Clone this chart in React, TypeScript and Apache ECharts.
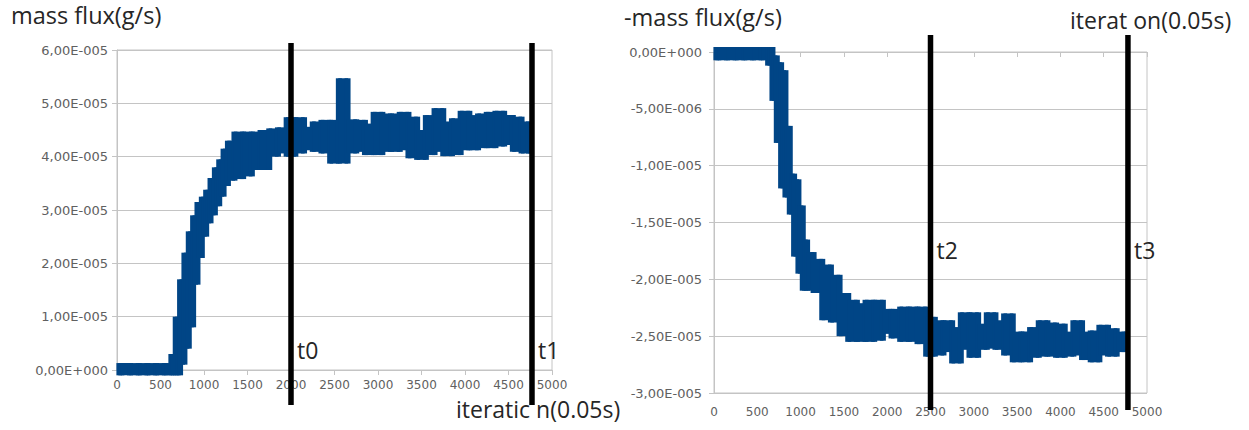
import React, { useEffect, useRef } from "react";
import * as echarts from "echarts";

// ---------- data ----------
// Left chart: mass flux, values in units of 1E-5 g/s (lower / upper edges of the thick noisy trace)
const leftIterations = [0, 100, 200, 300, 400, 500, 600, 650, 700, 750, 800, 850, 900, 950, 1000, 1050, 1100, 1150, 1200, 1250, 1300, 1400, 1500, 1600, 1700, 1800, 1900, 2000, 2100, 2200, 2300, 2400, 2500, 2600, 2700, 2800, 2900, 3000, 3100, 3200, 3300, 3400, 3500, 3600, 3700, 3800, 3900, 4000, 4100, 4200, 4300, 4400, 4500, 4600, 4700, 4770];
const leftUpperE5 = [0.13, 0.13, 0.13, 0.13, 0.13, 0.13, 0.13, 0.3, 1.0, 1.7, 2.2, 2.6, 2.9, 3.15, 3.25, 3.38, 3.6, 3.8, 3.95, 4.15, 4.3, 4.47, 4.47, 4.47, 4.5, 4.53, 4.55, 4.74, 4.74, 4.56, 4.66, 4.69, 4.69, 5.47, 4.7, 4.69, 4.62, 4.84, 4.81, 4.81, 4.84, 4.75, 4.5, 4.78, 4.91, 4.66, 4.72, 4.86, 4.78, 4.81, 4.84, 4.86, 4.78, 4.75, 4.66, 4.56];
const leftLowerE5 = [-0.1, -0.1, -0.1, -0.1, -0.1, -0.1, -0.1, -0.1, -0.1, 0.1, 0.4, 0.8, 1.6, 2.1, 2.5, 2.75, 2.9, 3.07, 3.25, 3.45, 3.55, 3.58, 3.63, 3.75, 3.75, 4.0, 4.06, 4.0, 4.06, 4.12, 4.09, 4.06, 3.87, 3.87, 4.06, 4.09, 4.03, 4.03, 4.09, 4.09, 4.12, 3.97, 3.94, 4.03, 4.09, 4.01, 4.03, 4.12, 4.12, 4.16, 4.16, 4.19, 4.22, 4.09, 4.06, 4.06];

// Right chart: -mass flux, values in units of 1E-6 g/s
const rightIterations = [0, 100, 200, 300, 400, 500, 600, 650, 700, 750, 800, 850, 900, 950, 1000, 1050, 1100, 1200, 1300, 1400, 1500, 1600, 1700, 1800, 1900, 2000, 2100, 2200, 2300, 2400, 2500, 2600, 2700, 2800, 2900, 3000, 3100, 3200, 3300, 3400, 3500, 3600, 3700, 3800, 3900, 4000, 4100, 4200, 4300, 4400, 4500, 4600, 4700, 4780];
const rightUpperE6 = [0.44, 0.44, 0.44, 0.44, 0.44, 0.44, 0.44, 0.44, -0.3, -0.9, -1.6, -6.5, -10.7, -11.2, -13.5, -16.5, -17.6, -18.2, -18.7, -19.6, -21.2, -21.8, -22.1, -21.8, -21.8, -22.6, -22.6, -22.4, -22.4, -22.4, -23.3, -23.6, -23.6, -24.2, -22.9, -22.9, -23.9, -22.9, -23.6, -23.0, -24.6, -24.6, -24.2, -23.6, -23.8, -23.9, -24.6, -23.6, -24.6, -24.5, -24.0, -24.3, -24.6, -24.6];
const rightLowerE6 = [-0.73, -0.73, -0.73, -0.73, -0.73, -0.73, -0.73, -1.2, -4.3, -8.0, -12.0, -12.8, -14.3, -18.0, -19.5, -21.0, -21.0, -21.2, -23.6, -23.8, -25.0, -25.5, -25.5, -25.5, -25.4, -24.8, -25.2, -25.5, -25.5, -25.7, -26.8, -26.7, -26.4, -27.4, -26.2, -26.9, -26.2, -26.1, -26.2, -26.7, -27.3, -27.3, -26.9, -26.8, -26.8, -26.9, -26.8, -26.7, -27.1, -27.3, -26.7, -26.8, -26.4, -26.2];

// Marker lines (iterations) and their labels
const leftMarkers = [2000, 4770];
const leftMarkerLabels = ["t0", "t1"];
const rightMarkers = [2500, 4780];
const rightMarkerLabels = ["t2", "t3"];

// Axis ticks
const xTicks = { min: 0, max: 5000, interval: 500 };
const leftY = { min: 0, max: 6, interval: 1 }; // x1E-5
const rightY = { min: -30, max: 0, interval: 5 }; // x1E-6

// Texts
const leftTitle = "mass flux(g/s)";
const leftXTitle = "iteratic n(0.05s)";
const rightTitle = "-mass flux(g/s)";
const rightXTitle = "iterat on(0.05s)";

// ---------- styles ----------
const BLUE = "#004586";
const GRID_LINE = "#c4c4c4";
const AXIS_LABEL = "#606060";
const LABEL_FONT = "DejaVu Sans";
const TEXT_FONT = "Open Sans";
const TEXT_COLOR = "#262626";

function sciFormatter(baseExp: number) {
  return (v: number) => {
    if (Math.abs(v) < 1e-9) return "0,00E+000";
    const e = Math.floor(Math.log10(Math.abs(v)) + 1e-9);
    const mant = v / Math.pow(10, e);
    const exp = e + baseExp;
    const expStr = (exp < 0 ? "-" : "+") + String(Math.abs(exp)).padStart(3, "0");
    return mant.toFixed(2).replace(".", ",") + "E" + expStr;
  };
}

// Noisy thick trace drawn as a stepped band between lower and upper edges,
// with a short vertical joint at each step so the trace stays continuous.
function bandSeries(idx: number, iters: number[], lower: number[], upper: number[]) {
  return {
    type: "custom",
    xAxisIndex: idx,
    yAxisIndex: idx,
    clip: false,
    silent: true,
    z: 3,
    data: iters.map((x, i) => [x, lower[i], upper[i]]),
    encode: { x: 0, y: [1, 2] },
    renderItem: (params: any, api: any) => {
      const i = params.dataIndex;
      const n = iters.length;
      const xi = iters[i];
      const xl = i > 0 ? (iters[i - 1] + xi) / 2 : xi;
      const xr = i < n - 1 ? (iters[i + 1] + xi) / 2 : xi;
      const p1 = api.coord([xl, upper[i]]);
      const p2 = api.coord([xr, lower[i]]);
      const children: any[] = [
        {
          type: "rect",
          shape: { x: p1[0] - 0.6, y: p1[1], width: p2[0] - p1[0] + 1.2, height: p2[1] - p1[1] },
          style: { fill: BLUE },
        },
      ];
      if (i < n - 1) {
        const top = Math.max(upper[i], upper[i + 1]);
        const bot = Math.min(lower[i], lower[i + 1]);
        const q1 = api.coord([xr, top]);
        const q2 = api.coord([xr, bot]);
        children.push({
          type: "rect",
          shape: { x: q1[0] - 3, y: q1[1], width: 6, height: q2[1] - q1[1] },
          style: { fill: BLUE },
        });
      }
      return { type: "group", children };
    },
  };
}

function markerSeries(idx: number, xs: number[], labels: string[], topExt: number, bottomExt: number, labelFromBottom: number) {
  return {
    type: "custom",
    xAxisIndex: idx,
    yAxisIndex: idx,
    clip: false,
    silent: true,
    z: 10,
    data: xs.map((x) => [x, 0]),
    encode: { x: 0, y: 1 },
    renderItem: (params: any, api: any) => {
      const cs = params.coordSys;
      const x = api.coord([api.value(0), api.value(1)])[0];
      return {
        type: "group",
        children: [
          {
            type: "line",
            shape: { x1: x, y1: cs.y - topExt, x2: x, y2: cs.y + cs.height + bottomExt },
            style: { stroke: "#000", lineWidth: 5.5 },
          },
          {
            type: "text",
            x: x + 6,
            y: cs.y + cs.height - labelFromBottom,
            style: { text: labels[params.dataIndex], fill: TEXT_COLOR, fontSize: 23, fontFamily: TEXT_FONT, align: "left", verticalAlign: "middle" },
          },
        ],
      };
    },
  };
}

function xAxisCfg(gridIndex: number, labelMargin: number) {
  return {
    type: "value",
    gridIndex,
    min: xTicks.min,
    max: xTicks.max,
    interval: xTicks.interval,
    axisLine: { show: true, onZero: true, lineStyle: { color: GRID_LINE, width: 1 } },
    axisTick: { show: true, length: 5, lineStyle: { color: GRID_LINE } },
    splitLine: { show: false },
    axisLabel: { color: AXIS_LABEL, fontSize: 12, fontFamily: LABEL_FONT, margin: labelMargin, showMinLabel: true, showMaxLabel: true, formatter: (v: number) => String(v) },
  };
}

function yAxisCfg(gridIndex: number, cfg: { min: number; max: number; interval: number }, baseExp: number, labelMargin: number) {
  return {
    type: "value",
    gridIndex,
    min: cfg.min,
    max: cfg.max,
    interval: cfg.interval,
    axisLine: { show: true, onZero: false, lineStyle: { color: GRID_LINE } },
    axisTick: { show: true, length: 5, lineStyle: { color: GRID_LINE } },
    splitLine: { show: true, lineStyle: { color: GRID_LINE, width: 1 } },
    axisLabel: { color: AXIS_LABEL, fontSize: 13, fontFamily: LABEL_FONT, margin: labelMargin, formatter: sciFormatter(baseExp) },
  };
}

export default function App() {
  const ref = useRef<HTMLDivElement>(null);
  useEffect(() => {
    if (!ref.current) return;
    const chart = echarts.init(ref.current, undefined, { renderer: "svg" });
    const option: any = {
      animation: false,
      backgroundColor: "#ffffff",
      grid: [
        { left: 117, top: 50, width: 435, height: 320, show: true, borderColor: GRID_LINE, borderWidth: 1, containLabel: false },
        { left: 714, top: 52, width: 433, height: 341, show: true, borderColor: GRID_LINE, borderWidth: 1, containLabel: false },
      ],
      xAxis: [xAxisCfg(0, 9), xAxisCfg(1, 13)],
      yAxis: [yAxisCfg(0, leftY, -5, 9), yAxisCfg(1, rightY, -6, 12)],
      series: [
        bandSeries(0, leftIterations, leftLowerE5, leftUpperE5),
        bandSeries(1, rightIterations, rightLowerE6, rightUpperE6),
        markerSeries(0, leftMarkers, leftMarkerLabels, 7, 35, 20),
        markerSeries(1, rightMarkers, rightMarkerLabels, 17, 17, 143),
      ],
      graphic: [
        { type: "text", left: 11, top: 3, z: 1, style: { text: leftTitle, fontSize: 23.5, fontFamily: TEXT_FONT, fill: TEXT_COLOR } },
        { type: "text", left: 456, top: 397, z: 1, style: { text: leftXTitle, fontSize: 23, fontFamily: TEXT_FONT, fill: TEXT_COLOR } },
        { type: "text", left: 624, top: 5, z: 1, style: { text: rightTitle, fontSize: 23.5, fontFamily: TEXT_FONT, fill: TEXT_COLOR } },
        { type: "text", left: 1070, top: 8, z: 1, style: { text: rightXTitle, fontSize: 23, fontFamily: TEXT_FONT, fill: TEXT_COLOR } },
      ],
    };
    chart.setOption(option);
    return () => chart.dispose();
  }, []);
  return <div ref={ref} style={{ position: "fixed", left: 0, top: 0, width: 1249, height: 430 }} />;
}
